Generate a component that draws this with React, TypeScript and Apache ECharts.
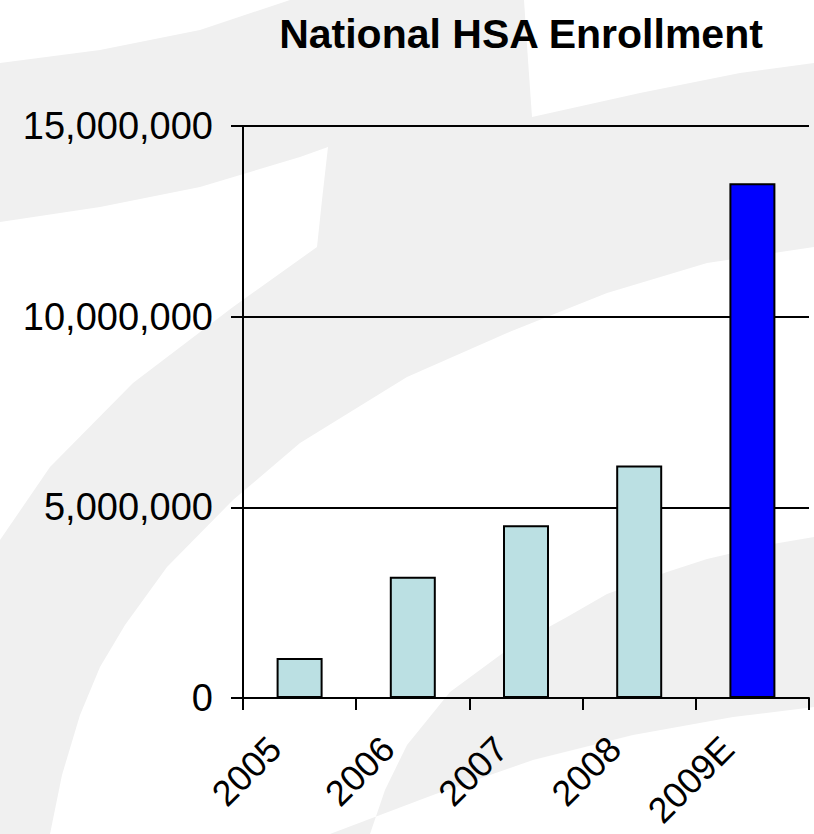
import React, { useEffect, useRef } from "react";
import * as echarts from "echarts";

const categories = ["2005", "2006", "2007", "2008", "2009E"];
const enrollment = [1050000, 3180000, 4530000, 6100000, 13500000];
const barColors = ["#BBE0E3", "#BBE0E3", "#BBE0E3", "#BBE0E3", "#0000FF"];
const yTicks = [0, 5000000, 10000000, 15000000];
const titleText = "National HSA Enrollment";

const FONT = "'Liberation Sans', Arial, Helvetica, sans-serif";
const BG = "#F0F0F0";

const bigSwoosh = [
  [0, 63], [100, 50], [200, 30], [290, 0], [524, 0], [528, 60], [532, 117],
  [640, 93], [740, 73], [814, 63], [814, 247], [707, 263], [607, 293],
  [507, 333], [407, 377], [300, 443], [233, 500], [167, 567], [125, 625],
  [100, 667], [80, 715], [62, 775], [50, 834], [0, 834], [0, 540], [50, 467],
  [133, 383], [233, 307], [317, 247], [322, 200], [328, 147], [300, 157],
  [200, 187], [100, 207], [0, 222],
];
const lowSwoosh = [
  [370, 834], [385, 790], [407, 745], [450, 692], [507, 650], [567, 617],
  [607, 594], [667, 572], [707, 559], [767, 545], [814, 537], [814, 707],
  [733, 717], [633, 735], [533, 760], [433, 795], [330, 834],
];

export default function App() {
  const ref = useRef<HTMLDivElement>(null);
  useEffect(() => {
    document.body.style.margin = "0";
    if (!ref.current) return;
    const chart = echarts.init(ref.current, undefined, { renderer: "svg" });
    chart.setOption({
      animation: false,
      backgroundColor: "#FFFFFF",
      title: {
        text: titleText,
        left: 516,
        top: 8,
        textAlign: "center",
        textStyle: { fontFamily: FONT, fontSize: 41, fontWeight: "bold", color: "#000" },
      },
      graphic: [
        { type: "polygon", z: -10, silent: true, shape: { points: bigSwoosh }, style: { fill: BG } },
        { type: "polygon", z: -10, silent: true, shape: { points: lowSwoosh }, style: { fill: BG } },
      ],
      grid: { left: 243, right: 5, top: 126, bottom: 136, containLabel: false, outerBoundsMode: "none" },
      xAxis: {
        type: "category",
        data: categories,
        axisLine: { lineStyle: { color: "#000", width: 2 } },
        axisTick: { show: true, length: 12, alignWithLabel: false, lineStyle: { color: "#000", width: 2 } },
        axisLabel: {
          rotate: 45,
          margin: 20,
          padding: [0, 35, 0, 0],
          fontFamily: FONT,
          fontSize: 36,
          color: "#000",
          interval: 0,
        },
      },
      yAxis: {
        type: "value",
        min: yTicks[0],
        max: yTicks[yTicks.length - 1],
        interval: yTicks[1] - yTicks[0],
        axisLine: { show: true, lineStyle: { color: "#000", width: 2 } },
        axisTick: { show: true, length: 12, lineStyle: { color: "#000", width: 2 } },
        splitLine: { show: true, lineStyle: { color: "#000", width: 2 } },
        axisLabel: {
          margin: 30,
          fontFamily: FONT,
          fontSize: 38,
          color: "#000",
          formatter: (v: number) => v.toLocaleString("en-US"),
        },
      },
      series: [
        {
          type: "bar",
          barWidth: 46,
          data: enrollment.map((v, i) => ({
            value: v,
            itemStyle: { color: barColors[i], borderColor: "#000", borderWidth: 2 },
          })),
        },
      ],
    });
    return () => chart.dispose();
  }, []);
  return <div ref={ref} style={{ width: 814, height: 834 }} />;
}
